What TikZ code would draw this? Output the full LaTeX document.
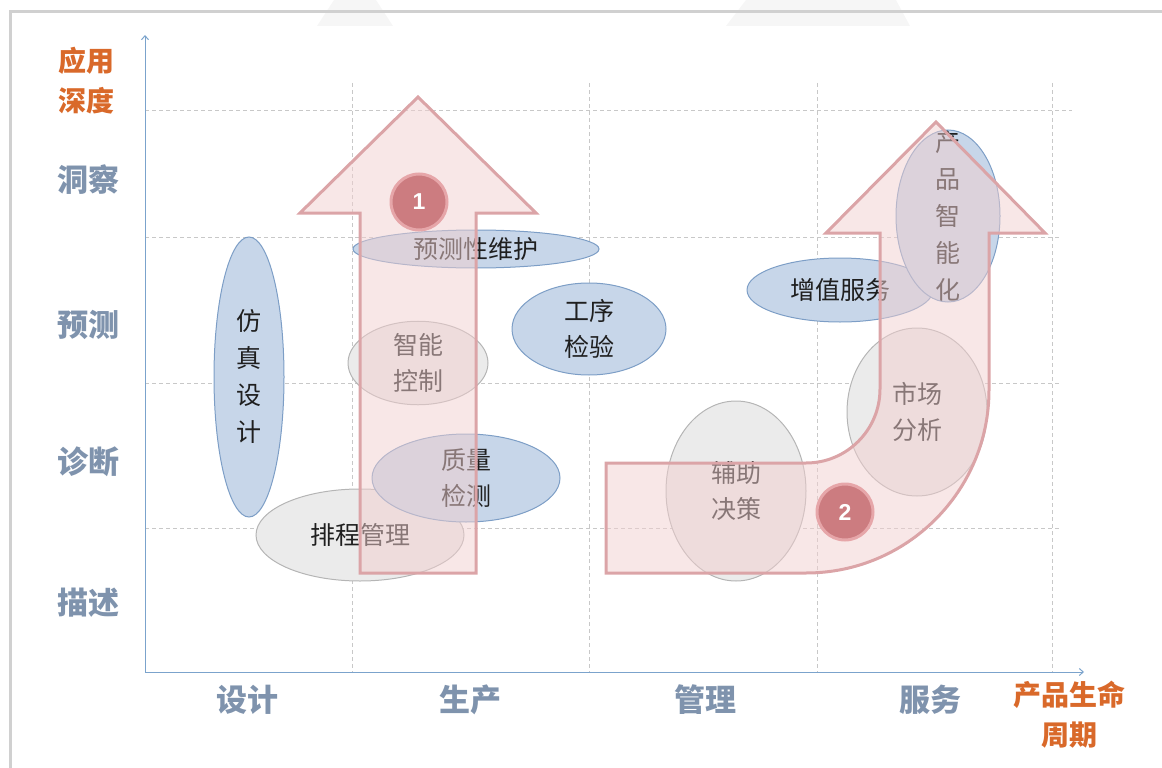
\documentclass[tikz,border=0pt]{standalone}
\usepackage{fontspec}
\newfontfamily\cjk{Noto Sans CJK SC}
\newfontfamily\numfont{Liberation Sans}
\usetikzlibrary{arrows.meta,shapes.geometric}
\definecolor{axisblue}{HTML}{7BA3CC}
\definecolor{gridgray}{HTML}{C8C8C8}
\definecolor{labblue}{HTML}{7F93AD}
\definecolor{laborange}{HTML}{D9692A}
\definecolor{ellblue}{HTML}{C7D6E9}
\definecolor{ellbluedraw}{HTML}{7D9EC6}
\definecolor{ellgray}{HTML}{EBEBEB}
\definecolor{ellgraydraw}{HTML}{B5B5B5}
\definecolor{arrfill}{HTML}{F2CFCF}
\definecolor{arrdraw}{HTML}{DBA4A7}
\definecolor{numfill}{HTML}{CC7C80}
\definecolor{numdraw}{HTML}{E6A6A9}
\definecolor{framegray}{HTML}{D0D0D0}
\definecolor{wmgray}{HTML}{F6F6F6}
\tikzset{
  grid/.style={draw=gridgray, line width=0.8pt, dash pattern=on 4pt off 3pt},
  axis/.style={draw=axisblue, line width=1pt},
  ylab/.style={font=\cjk\bfseries\fontsize{31}{36}\selectfont, text=labblue, inner sep=0pt},
  xlab/.style={font=\cjk\bfseries\fontsize{31}{36}\selectfont, text=labblue, inner sep=0pt},
  olab/.style={font=\cjk\bfseries\fontsize{28}{40}\selectfont, text=laborange, inner sep=0pt, align=center},
  blueell/.style={ellipse, draw=ellbluedraw, fill=ellblue, line width=1pt, inner sep=0pt,
    font=\cjk\fontsize{25}{36}\selectfont, text=black!88, align=center},
  grayell/.style={ellipse, draw=ellgraydraw, fill=ellgray, line width=1pt, inner sep=0pt,
    font=\cjk\fontsize{25}{36}\selectfont, text=black!88, align=center},
  bigarrow/.style={draw=arrdraw, line width=3pt, fill=arrfill, fill opacity=0.5, line join=miter},
  numcirc/.style={circle, fill=numfill, draw=numdraw, line width=3pt, minimum size=56pt, inner sep=0pt,
    font=\numfont\bfseries\fontsize{23}{23}\selectfont, text=white}
}
\begin{document}
\begin{tikzpicture}[x=1pt,y=-1pt]
\useasboundingbox (0,0) rectangle (1162,768);
% faint watermark shapes at the top
\fill[wmgray] (317,26) -- (334,0) -- (376,0) -- (393,26) -- cycle;
\fill[wmgray] (726,26) -- (746,0) -- (896,0) -- (910,26) -- cycle;
% frame
\draw[framegray, line width=3pt] (10,768) -- (10,12) -- (1162,12);

% grid
\draw[grid] (145,110) -- (1072,110);
\draw[grid] (145,237) -- (1060,237);
\draw[grid] (145,383) -- (1060,383);
\draw[grid] (145,528) -- (1060,528);
\foreach \gx in {352,589,817,1052} {\draw[grid] (\gx,83) -- (\gx,672);}

% axes
\coordinate (o) at (145,672);
\coordinate (ytop) at (145,35);
\coordinate (xend) at (1084,672);
\draw[axis, -{Straight Barb[length=4pt,width=7pt]}] (o) -- (ytop);
\draw[axis, -{Straight Barb[length=4pt,width=7pt]}] (o) -- (xend);

% axis labels
\node[olab] (ydepth) at (86,81) {应用\\深度};
\node[ylab] (y4) at (88,180) {洞察};
\node[ylab] (y3) at (88,325) {预测};
\node[ylab] (y2) at (88,462) {诊断};
\node[ylab] (y1) at (88,603) {描述};
\node[xlab] (x1) at (247,700) {设计};
\node[xlab] (x2) at (470,700) {生产};
\node[xlab] (x3) at (705,700) {管理};
\node[xlab] (x4) at (930,700) {服务};
\node[olab] (xlife) at (1069,715) {产品生命\\周期};

% ellipses
\node[blueell, minimum width=70pt, minimum height=280pt] (fzsj) at (249,377) {仿\\[1pt]真\\[1pt]设\\[1pt]计};
\node[grayell, minimum width=208pt, minimum height=92pt] (pcgl) at (360,535) {排程管理};
\node[blueell, minimum width=246pt, minimum height=38pt] (ycwh) at (476,249) {预测性维护};
\node[grayell, minimum width=140pt, minimum height=80pt] (znkz) at (418,363) {智能\\控制};
\node[blueell, minimum width=188pt, minimum height=88pt] (zljc) at (466,478) {质量\\检测};
\node[blueell, minimum width=154pt, minimum height=92pt] (gxjy) at (589,329) {工序\\检验};
\node[grayell, minimum width=140pt, minimum height=180pt] (fzjc) at (736,491) {辅助\\决策};
\node[blueell, minimum width=186pt, minimum height=64pt] (zzfw) at (840,290) {增值服务};
\node[grayell, minimum width=140pt, minimum height=168pt] (scfx) at (917,412) {市场\\分析};
\node[blueell, minimum width=104pt, minimum height=172pt,
  path picture={\node[font=\cjk\fontsize{25}{37}\selectfont, text=black!88, align=center, inner sep=0pt]
    at ([yshift=0pt]path picture bounding box.center) {产\\品\\智\\能\\化};}] (cpznh) at (948,216) {};

% arrow 1
\path[bigarrow] (360,573) -- (360,213) -- (300,213) -- (418,97) -- (536,213) -- (476,213) -- (476,573) -- cycle;
% arrow 2
\path[bigarrow] (606,463) -- (806,463) arc[start angle=90, end angle=0, radius=74]
  -- (880,233) -- (826,233) -- (936,122) -- (1045,233) -- (989,233) -- (989,390)
  arc[start angle=0, end angle=90, radius=183] -- (606,573) -- cycle;

% number badges
\node[numcirc] (n1) at (419,202) {1};
\node[numcirc] (n2) at (845,512) {2};
\end{tikzpicture}
\end{document}
